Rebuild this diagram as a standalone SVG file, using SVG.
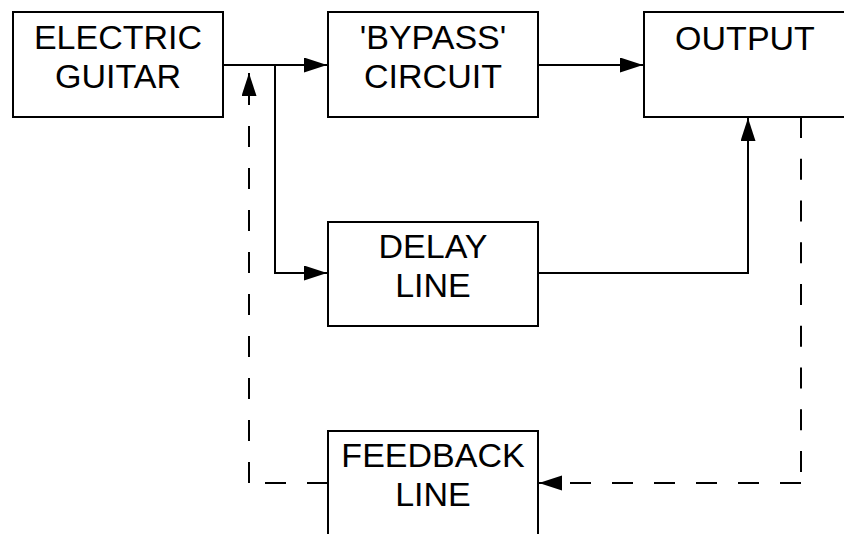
<svg xmlns="http://www.w3.org/2000/svg" width="844" height="534" viewBox="0 0 844 534">
<style>
.box{fill:#fff;stroke:#000;stroke-width:2}
.lbl{font-family:"Liberation Sans",Arial,sans-serif;font-size:34px;fill:#000;text-anchor:middle}
.ln{fill:none;stroke:#000;stroke-width:2}
.dash{fill:none;stroke:#000;stroke-width:2;stroke-dasharray:21 21}
</style>
<defs>
<marker id="ah" markerUnits="userSpaceOnUse" markerWidth="24" markerHeight="16" refX="23" refY="7.5" orient="auto">
<path d="M0,0 L23,7.5 L0,15 Z" fill="#000"/>
</marker>
</defs>
<rect width="844" height="534" fill="#fff"/>
<g id="connectors">
<path class="ln" d="M223,65 L327,65" marker-end="url(#ah)"/>
<path class="ln" d="M275,65 L275,273 L327,273" marker-end="url(#ah)"/>
<path class="ln" d="M538,65 L643,65" marker-end="url(#ah)"/>
<path class="ln" d="M538,273 L748,273 L748,118" marker-end="url(#ah)"/>
<path class="dash" d="M801,117 L801,483" style="stroke-dasharray:21 20.75"/>
<path class="dash" d="M801,483 L562,483"/>
<path class="ln" d="M562,483 L539,483" marker-end="url(#ah)"/>
<path class="dash" d="M328,483 L249,483"/>
<path class="dash" d="M249,483 L249,90"/>
<path class="ln" d="M249,90 L249,73" marker-end="url(#ah)"/>
</g>
<g id="electric-guitar">
<rect class="box" x="13" y="12" width="210" height="105"/>
<text class="lbl" x="118" y="49">ELECTRIC</text>
<text class="lbl" x="118" y="88">GUITAR</text>
</g>
<g id="bypass-circuit">
<rect class="box" x="328" y="12" width="210" height="105"/>
<text class="lbl" x="433" y="49">'BYPASS'</text>
<text class="lbl" x="433" y="88">CIRCUIT</text>
</g>
<g id="output">
<rect class="box" x="644" y="12" width="210" height="105"/>
<text class="lbl" x="745" y="50">OUTPUT</text>
</g>
<g id="delay-line">
<rect class="box" x="328" y="222" width="210" height="104"/>
<text class="lbl" x="433" y="258">DELAY</text>
<text class="lbl" x="433" y="297">LINE</text>
</g>
<g id="feedback-line">
<rect class="box" x="328" y="431" width="210" height="120"/>
<text class="lbl" x="433" y="467">FEEDBACK</text>
<text class="lbl" x="433" y="506">LINE</text>
</g>
</svg>
